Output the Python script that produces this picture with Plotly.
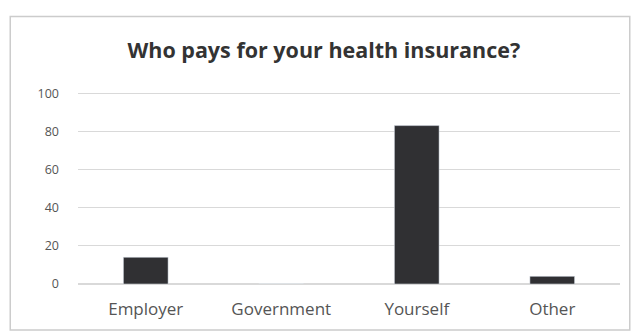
import plotly.graph_objects as go

categories = ["Employer", "Government", "Yourself", "Other"]
values = [14, 0, 83, 4]
y_ticks = [0, 20, 40, 60, 80, 100]

fig = go.Figure()
fig.add_trace(go.Bar(
    x=categories, y=values,
    marker=dict(color="#303033"),
    width=0.33,
))

fig.update_layout(
    width=635, height=331,
    title=dict(
        text="<b>Who pays for your health insurance?</b>",
        x=0.51, xanchor="center", y=0.848, yanchor="middle",
        font=dict(family="Open Sans", size=21.5, color="#333333"),
    ),
    xaxis=dict(
        tickfont=dict(family="Open Sans", size=17, color="#555555"),
        showline=False, showgrid=False, ticks="",
        ticklabelstandoff=13,
    ),
    yaxis=dict(
        range=[0, 100.6], tickvals=y_ticks,
        tickfont=dict(family="Open Sans", size=12.5, color="#555555"),
        gridcolor="#d9d9d9", zeroline=True, zerolinecolor="#d9d9d9",
        ticks="", ticklabelstandoff=18, automargin=False,
    ),
    shapes=[dict(
        type="rect", xref="paper", yref="paper",
        x0=-0.125, x1=1.018, y0=-0.24, y1=1.393,
        line=dict(color="#cccccc", width=1.5),
    )],
    plot_bgcolor="white", paper_bgcolor="white",
    margin=dict(l=78, r=15, t=92, b=47),
    showlegend=False,
)

fig.write_html("out.html", config={"displayModeBar": False},
               post_script="document.body.style.margin='0';")
